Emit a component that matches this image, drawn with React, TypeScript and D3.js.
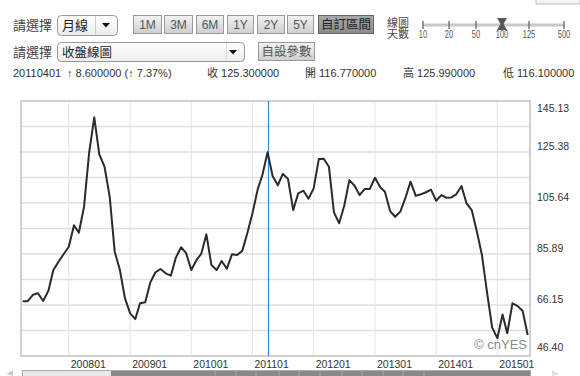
import React from "react";
import * as d3 from "d3";

const startMonth = "2007-04";
const closes = [
  67.6, 67.6, 70.1, 70.7, 67.7, 71.6, 79.7, 82.9, 85.8, 88.7,
  97.0, 94.1, 104.2, 124.9, 138.8, 124.5, 119.7, 108.1, 86.8, 79.7,
  68.8, 62.9, 60.7, 66.8, 67.2, 74.8, 78.8, 80.1, 78.4, 77.5,
  84.5, 88.5, 86.2, 79.7, 83.6, 85.9, 93.5, 81.6, 79.7, 83.2,
  80.2, 85.8, 85.5, 87.1, 93.9, 101.7, 110.9, 116.5, 125.3, 116.1,
  112.5, 116.9, 114.9, 102.9, 109.4, 110.4, 107.3, 111.3, 122.7, 122.8,
  119.7, 102.0, 97.8, 104.5, 114.5, 112.3, 108.7, 111.1, 111.1, 115.4,
  111.7, 110.0, 102.5, 100.3, 102.3, 107.5, 113.9, 108.4, 109.0, 109.8,
  110.8, 106.5, 108.7, 107.7, 107.8, 109.0, 112.2, 105.5, 102.9, 94.5,
  85.5, 70.7, 57.4, 53.3, 62.5, 55.2, 66.8, 65.8, 63.8, 54.5,
];
const yTickLabels = ["46.40", "66.15", "85.89", "105.64", "125.38", "145.13"];
const xTickLabels = ["200801", "200901", "201001", "201101", "201201", "201301", "201401", "201501"];
const periodButtons = ["1M", "3M", "6M", "1Y", "2Y", "5Y"];
const sliderLabels = ["10", "20", "50", "100", "125", "500"];
const selectedDate = "2011-04";
const infoParts = [
  "20110401",
  "↑ 8.600000 (↑ 7.37%)",
  "收 125.300000",
  "開 116.770000",
  "高 125.990000",
  "低 116.100000",
];

const FONT = "'Liberation Sans', Arial, sans-serif";
const CJK = "'Liberation Sans', 'Noto Sans CJK TC', sans-serif";

export default function App() {
  const parse = d3.timeParse("%Y-%m");
  const start = parse(startMonth) as Date;
  const dates = d3.timeMonth.range(start, d3.timeMonth.offset(start, closes.length));
  const data = closes.map((v, i) => ({ d: dates[i], v }));

  const plot = { l: 21, r: 530, t: 101, b: 356 };
  const x = d3
    .scaleTime()
    .domain([dates[0], dates[dates.length - 1]])
    .range([22.7, 527.7]);
  const yMin = +yTickLabels[0];
  const yMax = +yTickLabels[yTickLabels.length - 1];
  const y = d3.scaleLinear().domain([yMin, yMax]).range([plot.b, plot.t]);

  const line = d3
    .line<{ d: Date; v: number }>()
    .x((p) => x(p.d))
    .y((p) => y(p.v));

  const gridVals = d3.range(0, 11).map((k) => yMin + ((yMax - yMin) * k) / 10);
  const yearTicks = xTickLabels.map((s) => d3.timeParse("%Y%m")(s) as Date);
  const selX = Math.round(x(parse(selectedDate) as Date)) + 0.5;

  const btnX = [133, 164, 196, 227, 257, 287];
  const btnW = [28, 28, 27, 26, 27, 26];
  const sliderX = [423, 449, 476, 502, 529, 564];
  const infoX = [13, 67, 207, 305, 403, 503];

  return (
    <svg
      width={580}
      height={376}
      style={{ position: "absolute", left: 0, top: 0, background: "#fff" }}
      fontFamily={FONT}
    >
      <defs>
        <linearGradient id="btn" x1="0" y1="0" x2="0" y2="1">
          <stop offset="0" stopColor="#f2f2f2" />
          <stop offset="1" stopColor="#cfcfcf" />
        </linearGradient>
        <linearGradient id="btnDark" x1="0" y1="0" x2="0" y2="1">
          <stop offset="0" stopColor="#a8a8a8" />
          <stop offset="1" stopColor="#8a8a8a" />
        </linearGradient>
        <linearGradient id="drop" x1="0" y1="0" x2="0" y2="1">
          <stop offset="0" stopColor="#ffffff" />
          <stop offset="1" stopColor="#ececec" />
        </linearGradient>
      </defs>

      {/* top-right partial box */}
      <rect x={536} y={-6} width={44} height={10} fill="#f4f4f4" stroke="#bbb" />

      {/* Row 1 */}
      <text x={13} y={30} fontSize={13} fill="#444" fontFamily={CJK}>請選擇</text>
      <rect x={57.5} y={15.5} width={60} height={20} rx={4} fill="url(#drop)" stroke="#999" />
      <line x1={95.5} y1={16} x2={95.5} y2={35} stroke="#ccc" />
      <text x={62} y={30} fontSize={13} fill="#222" fontFamily={CJK}>月線</text>
      <path d="M102,23 L110,23 L106,27.5 Z" fill="#111" />
      {periodButtons.map((b, i) => (
        <g key={b}>
          <rect x={btnX[i] + 0.5} y={15.5} width={btnW[i]} height={18} fill="url(#btn)" stroke="#999" />
          <text x={btnX[i] + btnW[i] / 2 + 0.5} y={29} fontSize={12} fill="#555" textAnchor="middle">{b}</text>
        </g>
      ))}
      <rect x={318.5} y={15.5} width={55} height={18} fill="url(#btnDark)" stroke="#666" />
      <text x={346} y={29} fontSize={12.5} fill="#222" textAnchor="middle" fontFamily={CJK}>自訂區間</text>

      <text x={387} y={26.5} fontSize={11} fill="#444" fontFamily={CJK}>線圖</text>
      <text x={387} y={37.5} fontSize={11} fill="#444" fontFamily={CJK}>天數</text>
      <line x1={422} y1={25} x2={565} y2={25} stroke="#c8c8c8" strokeWidth={3} />
      {sliderX.map((sx, i) => (
        <g key={i}>
          <line x1={sx} y1={21} x2={sx} y2={29} stroke="#777" strokeWidth={1.5} />
          <text
            x={sx}
            y={38.5}
            fontSize={11}
            fill="#555"
            textAnchor="middle"
            transform={`translate(${sx},0) scale(0.68,1) translate(${-sx},0)`}
          >
            {sliderLabels[i]}
          </text>
        </g>
      ))}
      <path d="M497,18 L507,18 L503.5,24 L507,30 L497,30 L500.5,24 Z" fill="#555" />

      {/* Row 2 */}
      <text x={13} y={57} fontSize={13} fill="#444" fontFamily={CJK}>請選擇</text>
      <rect x={57.5} y={42.5} width={187} height={19} rx={4} fill="url(#drop)" stroke="#999" />
      <line x1={226.5} y1={43} x2={226.5} y2={61} stroke="#ddd" />
      <text x={62} y={56.5} fontSize={12.5} fill="#222" fontFamily={CJK}>收盤線圖</text>
      <path d="M229,50 L237,50 L233,54.5 Z" fill="#111" />
      <rect x={258.5} y={42.5} width={56} height={18} fill="url(#btn)" stroke="#999" />
      <text x={286.5} y={56} fontSize={12.5} fill="#555" textAnchor="middle" fontFamily={CJK}>自設參數</text>

      {/* Row 3 info */}
      {infoParts.map((t, i) => (
        <text key={i} x={infoX[i]} y={77} fontSize={11} fill="#333" fontFamily={CJK}>{t}</text>
      ))}

      {/* Plot grid */}
      {gridVals.map((g, i) => (
        <line key={"h" + i} x1={plot.l} x2={plot.r} y1={y(g)} y2={y(g)} stroke="#dedede" strokeWidth={1.5} />
      ))}
      {yearTicks.map((d, i) => (
        <line key={"v" + i} x1={x(d)} x2={x(d)} y1={plot.t} y2={plot.b} stroke="#e4e4e4" strokeWidth={1} />
      ))}
      <rect x={plot.l} y={plot.t} width={plot.r - plot.l} height={plot.b - plot.t} fill="none" stroke="#d0d0d0" strokeWidth={2} />

      {/* selected vertical line */}
      <line x1={selX} x2={selX} y1={plot.t} y2={plot.b} stroke="#2a8ce0" strokeWidth={1.2} />

      {/* series */}
      <path d={line(data) || ""} fill="none" stroke="#2b2b2b" strokeWidth={2} strokeLinejoin="round" />

      {/* watermark */}
      <text x={527} y={349} fontSize={13} fill="#8a8a8a" textAnchor="end">© cnYES</text>

      {/* y labels */}
      {yTickLabels.map((t) => {
        const gy = y(+t);
        const by = Math.min(350.5, Math.max(111.5, gy - 2));
        return (
          <text key={t} x={537} y={by} fontSize={10.5} fill="#333">{t}</text>
        );
      })}

      {/* x labels */}
      {yearTicks.map((d, i) => (
        <text key={xTickLabels[i]} x={x(d) + 2} y={367.5} fontSize={10.5} fill="#333">{xTickLabels[i]}</text>
      ))}

      {/* scrollbar */}
      <path d="M6,374 L13,370 L13,376 Z" fill="#ccc" />
      <path d="M552,370 L559,374 L552,376 Z" fill="#ddd" />
      <rect x={22.5} y={370.5} width={508} height={10} fill="#e6e6e6" stroke="#aaa" />
      <rect x={111} y={371} width={419} height={10} fill="#888" />
      {[215, 236, 256, 279, 299, 320, 342, 362, 383, 403, 424].map((lx) => (
        <line key={lx} x1={lx} x2={lx} y1={371} y2={376} stroke="#aaa" />
      ))}
    </svg>
  );
}
